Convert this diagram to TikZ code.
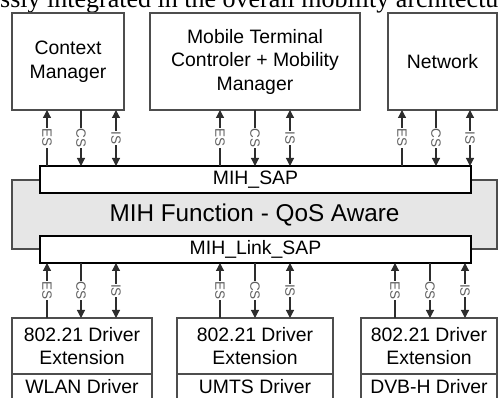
\documentclass[tikz,border=0pt]{standalone}
\usepackage{fontspec}
\setmainfont{Liberation Sans}
\newfontfamily\serifcap{Liberation Serif}
\usetikzlibrary{arrows.meta}
\definecolor{edge}{RGB}{77,77,77}
\definecolor{wire}{RGB}{45,45,45}
\definecolor{mihfill}{RGB}{230,230,230}
\definecolor{lblgray}{RGB}{95,95,95}

\tikzset{
  blk/.style={draw=edge, line width=1.5pt, fill=white, align=center, inner sep=0pt, outer sep=0pt,
    font=\fontsize{19.4}{23.5}\selectfont},
  sapbar/.style={draw=black, line width=1.3pt, fill=white, inner sep=0pt, outer sep=0pt,
    minimum width=431pt, minimum height=27pt, font=\fontsize{19.4}{23.5}\selectfont},
  sig/.style={draw=wire, line width=1.2pt},
  lbl/.style={fill=white, text=lblgray, rotate=-90, inner sep=0.6pt, font=\fontsize{13.5}{14}\selectfont},
  >={Triangle[width=8pt,length=8pt]}
}

\begin{document}
\begin{tikzpicture}[x=1pt,y=1pt,yscale=-1]
\useasboundingbox (0,0) rectangle (499,398);
\clip (0,0) rectangle (499,398);

% cut caption line at the top
\node[anchor=base west, inner sep=0pt, font=\serifcap\fontsize{26}{28}\selectfont] (cap) at (0,7.5) {ssly integrated in the overall mobility architectu};

% upper layer
\node[blk, minimum width=112pt, minimum height=97pt] (ctx) at (68,61.5) {Context\\Manager};
\node[blk, minimum width=210pt, minimum height=97pt] (mtc) at (255,61.5) {Mobile Terminal\\Controler + Mobility\\Manager};
\node[blk, minimum width=109pt, minimum height=97pt] (net) at (442.5,61.5) {Network};

% MIH function with its two SAPs
\node[draw=edge, line width=1.5pt, fill=mihfill, inner sep=0pt, minimum width=485pt, minimum height=69pt,
  font=\fontsize{24.3}{28}\selectfont] (mih) at (254.5,214.5) {MIH Function - QoS Aware};
\node[sapbar] (sap) at (255.5,179.5) {MIH\_SAP};
\node[sapbar] (lsap) at (255.5,249.5) {MIH\_Link\_SAP};

% lower layer
\node[blk, minimum width=140pt, minimum height=56pt] (wext) at (82,346) {802.21 Driver\\Extension};
\node[blk, minimum width=140pt, minimum height=26pt, anchor=north] (wdrv) at (wext.south) {WLAN Driver};
\node[blk, minimum width=156pt, minimum height=56pt] (uext) at (255,346) {802.21 Driver\\Extension};
\node[blk, minimum width=156pt, minimum height=26pt, anchor=north] (udrv) at (uext.south) {UMTS Driver};
\node[blk, minimum width=136pt, minimum height=56pt] (dext) at (429,346) {802.21 Driver\\Extension};
\node[blk, minimum width=136pt, minimum height=26pt, anchor=north] (ddrv) at (dext.south) {DVB-H Driver};

% ES / CS / IS service primitives
\foreach \up/\lo/\a/\b/\c in {ctx/sap/47/81/116, mtc/sap/220/255/290, net/sap/402/436/470,
    lsap/wext/47/81/116, lsap/uext/220/255/290, lsap/dext/395/430/465}{
  \draw[sig,->] (\a,0 |- \lo.north) -- (\a,0 |- \up.south) node[lbl,midway]{ES};
  \draw[sig,->] (\b,0 |- \up.south) -- (\b,0 |- \lo.north) node[lbl,midway]{CS};
  \draw[sig,<->] (\c,0 |- \lo.north) -- (\c,0 |- \up.south) node[lbl,midway]{IS};
}

\end{tikzpicture}
\end{document}
